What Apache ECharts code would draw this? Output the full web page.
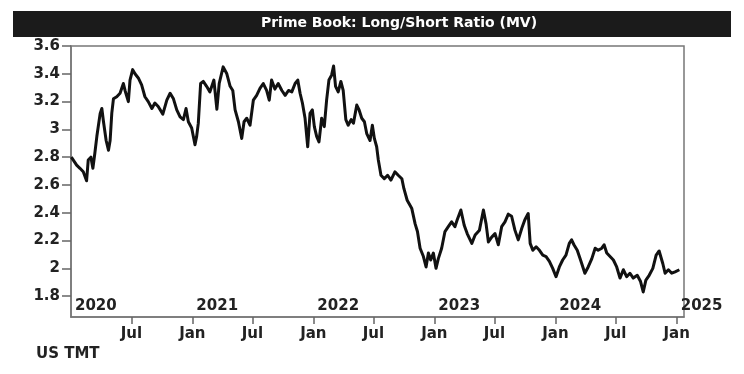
<!DOCTYPE html>
<html>
<head>
<meta charset="utf-8">
<script src="https://cdn.jsdelivr.net/npm/echarts@6/dist/echarts.min.js"></script>
<style>html,body{margin:0;padding:0;background:#fff;}#c{width:744px;height:374px;}</style>
</head>
<body>
<div id="c"></div>
<script>
var titleText = 'Prime Book: Long/Short Ratio (MV)';
var footText = 'US TMT';

var dates = [
'2020-01-02','2020-01-18','2020-01-28','2020-02-07','2020-02-17','2020-02-22','2020-03-01','2020-03-07','2020-03-13','2020-03-19',
'2020-03-29','2020-04-03','2020-04-08','2020-04-16','2020-04-23','2020-04-28','2020-05-03','2020-05-08','2020-05-18','2020-05-28',
'2020-06-07','2020-06-12','2020-06-22','2020-06-27','2020-07-05','2020-07-12','2020-07-22','2020-08-01','2020-08-11','2020-08-21',
'2020-09-01','2020-09-10','2020-09-20','2020-10-04','2020-10-16','2020-10-26','2020-11-05','2020-11-15','2020-11-25','2020-12-05',
'2020-12-13','2020-12-20','2020-12-30',
'2021-01-09','2021-01-14','2021-01-19','2021-01-26','2021-02-03','2021-02-13','2021-02-23','2021-03-07','2021-03-16','2021-03-23',
'2021-04-04','2021-04-15','2021-04-25','2021-05-03','2021-05-10','2021-05-20','2021-05-30','2021-06-06','2021-06-14','2021-06-24',
'2021-07-04','2021-07-14','2021-07-24','2021-08-03','2021-08-13','2021-08-21','2021-08-28','2021-09-07','2021-09-17','2021-09-28',
'2021-10-08','2021-10-18','2021-10-28','2021-11-07','2021-11-15','2021-11-22','2021-11-29','2021-12-07','2021-12-15','2021-12-22',
'2021-12-29',
'2022-01-04','2022-01-11','2022-01-18','2022-01-26','2022-02-03','2022-02-10','2022-02-17','2022-02-25','2022-03-03','2022-03-09',
'2022-03-17','2022-03-25','2022-04-01','2022-04-09','2022-04-16','2022-04-25','2022-05-02','2022-05-12','2022-05-19','2022-05-27',
'2022-06-04','2022-06-11','2022-06-21','2022-06-28','2022-07-04','2022-07-11','2022-07-16','2022-07-24','2022-08-03','2022-08-13',
'2022-08-23','2022-09-04','2022-09-14','2022-09-25','2022-10-01','2022-10-11','2022-10-25','2022-11-04','2022-11-11','2022-11-19',
'2022-11-29','2022-12-07','2022-12-14','2022-12-21','2022-12-29',
'2023-01-06','2023-01-13','2023-01-23','2023-02-02','2023-02-12','2023-02-22','2023-03-04','2023-03-11','2023-03-22','2023-04-01',
'2023-04-10','2023-04-24','2023-05-04','2023-05-17','2023-05-29','2023-06-06','2023-06-13','2023-06-23','2023-07-03','2023-07-13',
'2023-07-23','2023-08-02','2023-08-12','2023-08-22','2023-09-01','2023-09-11','2023-09-22','2023-10-01','2023-10-11','2023-10-17',
'2023-10-25','2023-11-04','2023-11-14','2023-11-24','2023-12-04','2023-12-14','2023-12-24',
'2024-01-03','2024-01-13','2024-01-23','2024-02-02','2024-02-12','2024-02-19','2024-02-26','2024-03-07','2024-03-17','2024-03-30',
'2024-04-09','2024-04-20','2024-04-30','2024-05-09','2024-05-20','2024-05-27','2024-06-04','2024-06-14','2024-06-24','2024-07-04',
'2024-07-14','2024-07-24','2024-08-03','2024-08-13','2024-08-23','2024-09-04','2024-09-14','2024-09-22','2024-09-30','2024-10-10',
'2024-10-21','2024-10-31','2024-11-09','2024-11-20','2024-11-27','2024-12-07','2024-12-17','2024-12-27','2025-01-09'
];

var ratio = [
2.80,2.743,2.72,2.695,2.63,2.78,2.80,2.72,2.83,2.95,
3.115,3.15,3.055,2.92,2.85,2.92,3.115,3.22,3.235,3.26,
3.33,3.28,3.20,3.355,3.43,3.40,3.37,3.32,3.235,3.20,
3.15,3.19,3.165,3.11,3.21,3.26,3.22,3.14,3.09,3.07,
3.15,3.055,3.01,
2.89,2.95,3.045,3.33,3.345,3.31,3.27,3.355,3.145,3.33,
3.45,3.40,3.31,3.28,3.14,3.055,2.935,3.055,3.08,3.03,
3.21,3.245,3.295,3.33,3.28,3.21,3.355,3.29,3.33,3.28,
3.245,3.28,3.27,3.33,3.355,3.26,3.19,3.08,2.875,3.115,
3.14,
3.02,2.95,2.91,3.08,3.02,3.21,3.355,3.39,3.456,3.31,
3.27,3.345,3.28,3.07,3.03,3.07,3.045,3.175,3.14,3.08,
3.055,2.97,2.92,3.03,2.935,2.875,2.78,2.67,2.645,2.67,
2.635,2.695,2.67,2.645,2.575,2.49,2.43,2.32,2.265,2.145,
2.085,2.01,2.11,2.06,2.11,
2.00,2.07,2.145,2.265,2.30,2.335,2.30,2.35,2.42,2.31,
2.25,2.18,2.24,2.275,2.42,2.32,2.19,2.225,2.25,2.17,
2.30,2.335,2.39,2.375,2.275,2.205,2.29,2.35,2.395,2.18,
2.13,2.155,2.13,2.095,2.085,2.05,2.00,
1.94,2.01,2.06,2.095,2.18,2.205,2.17,2.13,2.06,1.965,
2.01,2.07,2.145,2.13,2.145,2.17,2.11,2.085,2.06,2.01,
1.93,1.99,1.94,1.965,1.93,1.95,1.905,1.83,1.915,1.95,
2.00,2.095,2.125,2.035,1.965,1.99,1.965,1.975,1.99
];

var yTicks = [1.8, 2.0, 2.2, 2.4, 2.6, 2.8, 3.0, 3.2, 3.4, 3.6];
var halfYearTicks = ['2020-07-01','2021-01-01','2021-07-01','2022-01-01','2022-07-01','2023-01-01','2023-07-01','2024-01-01','2024-07-01','2025-01-01'];
var monthNames = ['Jan','Feb','Mar','Apr','May','Jun','Jul','Aug','Sep','Oct','Nov','Dec'];
var yearTicks = ['2020-01-01','2021-01-01','2022-01-01','2023-01-01','2024-01-01','2025-01-01'];

var axisMin = '2020-01-01';
var axisMax = '2025-01-23';

function ts(s) { return Date.parse(s + 'T00:00:00Z'); }

var seriesData = dates.map(function (d, i) { return [ts(d), ratio[i]]; });

var FONT = 'DejaVu Sans';
var chart = echarts.init(document.getElementById('c'), null, {renderer: 'canvas'});
chart.setOption({
  animation: false,
  backgroundColor: '#ffffff',
  title: {
    text: titleText,
    left: 399,
    textAlign: 'center',
    top: 16,
    padding: 0,
    textStyle: {color: '#ffffff', fontFamily: FONT, fontWeight: 'bold', fontSize: 14}
  },
  graphic: [
    {type: 'rect', z: -1, shape: {x: 13, y: 11, width: 718, height: 26}, style: {fill: '#1b1b1b'}},
    {type: 'text', left: 36, top: 347, style: {text: footText, fill: '#222', font: 'bold 15px "DejaVu Sans"'}}
  ],
  grid: {left: 71, right: 60, top: 46, bottom: 57, show: true, borderColor: '#777', borderWidth: 1.5, backgroundColor: 'transparent'},
  xAxis: [{
    type: 'value',
    min: ts(axisMin),
    max: ts(axisMax),
    position: 'bottom',
    axisLine: {show: true, onZero: false, lineStyle: {color: '#777', width: 1.5}},
    axisTick: {show: true, length: 7, inside: false, customValues: halfYearTicks.map(ts), lineStyle: {color: '#666', width: 1.5}},
    axisLabel: {
      customValues: halfYearTicks.map(ts),
      margin: 10,
      color: '#222', fontFamily: FONT, fontWeight: 'bold', fontSize: 15,
      formatter: function (v) { return monthNames[new Date(v).getUTCMonth()]; }
    },
    splitLine: {show: false}
  }, {
    type: 'value',
    min: ts(axisMin),
    max: ts(axisMax),
    position: 'bottom',
    axisLine: {show: false, onZero: false},
    axisTick: {show: false},
    axisLabel: {
      customValues: yearTicks.map(ts),
      inside: true,
      margin: 3,
      align: 'left',
      padding: [0, 0, 0, 4],
      color: '#222', fontFamily: FONT, fontWeight: 'bold', fontSize: 15,
      formatter: function (v) { return String(new Date(v).getUTCFullYear()); }
    },
    splitLine: {show: false}
  }],
  yAxis: {
    type: 'value',
    min: 1.65,
    max: 3.6,
    axisLine: {show: true, onZero: false, lineStyle: {color: '#777', width: 1.5}},
    axisTick: {show: true, length: 9, customValues: yTicks, lineStyle: {color: '#666', width: 1.5}},
    axisLabel: {customValues: yTicks, margin: 11, color: '#222', fontFamily: FONT, fontWeight: 'bold', fontSize: 15},
    splitLine: {show: false}
  },
  series: [{
    type: 'line',
    xAxisIndex: 0,
    data: seriesData,
    showSymbol: false,
    symbol: 'none',
    lineStyle: {color: '#111', width: 3, join: 'round'}
  }]
});
</script>
</body>
</html>
